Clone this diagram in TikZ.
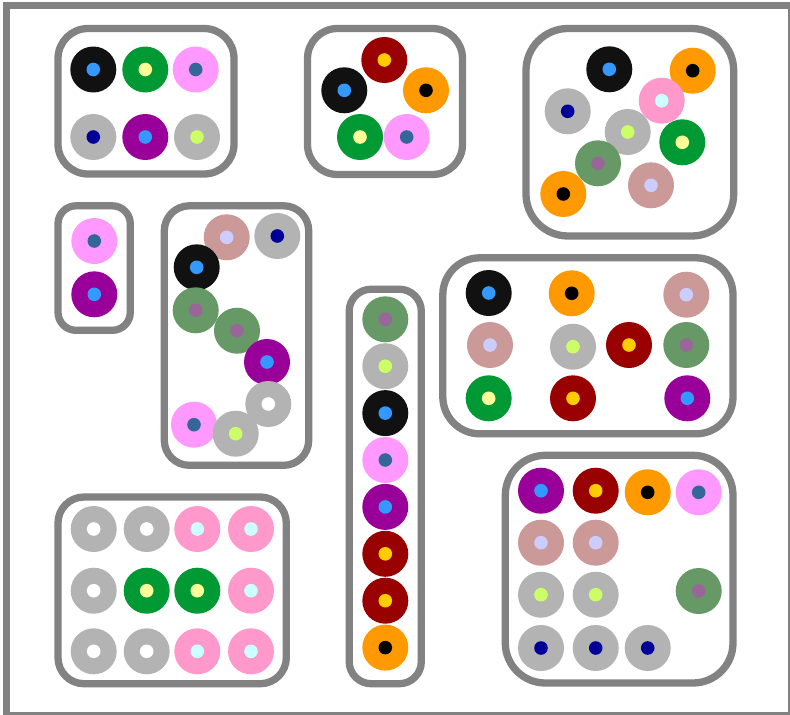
\documentclass[tikz,border=0pt]{standalone}
\usetikzlibrary{positioning}
\definecolor{blk}{HTML}{111111}
\definecolor{blu}{HTML}{3399FF}
\definecolor{grn}{HTML}{009933}
\definecolor{ylw}{HTML}{FFFF99}
\definecolor{pnk}{HTML}{FF99FF}
\definecolor{stl}{HTML}{336699}
\definecolor{gry}{HTML}{B3B3B3}
\definecolor{nvy}{HTML}{000099}
\definecolor{prp}{HTML}{990099}
\definecolor{lim}{HTML}{CCFF66}
\definecolor{drd}{HTML}{990000}
\definecolor{gld}{HTML}{FFCC00}
\definecolor{org}{HTML}{FF9900}
\definecolor{lpk}{HTML}{FF99CC}
\definecolor{cyn}{HTML}{CCFFFF}
\definecolor{sge}{HTML}{669966}
\definecolor{mve}{HTML}{996699}
\definecolor{rsy}{HTML}{CC9999}
\definecolor{lav}{HTML}{CCCCFF}
\definecolor{frm}{HTML}{828282}
\tikzset{
  boxline/.style={draw=frm, line width=7.3pt, fill=white},
  A/.style={fill=blk}, Ai/.style={fill=blu},
  B/.style={fill=grn}, Bi/.style={fill=ylw},
  C/.style={fill=pnk}, Ci/.style={fill=stl},
  D/.style={fill=gry}, Di/.style={fill=nvy},
  E/.style={fill=prp}, Ei/.style={fill=blu},
  F/.style={fill=gry}, Fi/.style={fill=lim},
  G/.style={fill=drd}, Gi/.style={fill=gld},
  H/.style={fill=org}, Hi/.style={fill=black},
  I/.style={fill=lpk}, Ii/.style={fill=cyn},
  J/.style={fill=sge}, Ji/.style={fill=mve},
  K/.style={fill=rsy}, Ki/.style={fill=lav},
  L/.style={fill=gry}, Li/.style={fill=white},
}
\newcommand\dotring[3]{\fill[#1] (#2,#3) circle (23); \fill[#1i] (#2,#3) circle (6.8);}
\begin{document}
\begin{tikzpicture}[x=1pt,y=-1pt]
\useasboundingbox (0,0) rectangle (790,715);
\clip (0,0) rectangle (790,715);
\fill[white] (0,0) rectangle (790,715);
\draw[draw=frm, line width=7pt] (6.5,5) rectangle (791,715);
% box 1
\draw[boxline, rounded corners=30pt] (58,28.5) rectangle (234,174);
\dotring{A}{93.3}{69.5}\dotring{B}{145.3}{69.5}\dotring{C}{195.7}{69.5}
\dotring{D}{93.3}{137}\dotring{E}{145.3}{137}\dotring{F}{197}{137}
% box 2
\draw[boxline, rounded corners=30pt] (307.5,28.5) rectangle (462.5,174.5);
\dotring{G}{384.3}{60}\dotring{A}{344.3}{90.3}\dotring{H}{426}{90.3}
\dotring{B}{360}{137}\dotring{C}{406.7}{137}
% box 3
\draw[boxline, rounded corners=42pt] (526,28.5) rectangle (733.7,236);
\dotring{A}{609.3}{69.3}\dotring{H}{692.7}{70.7}\dotring{D}{567.7}{111.3}
\dotring{I}{661.7}{100.7}\dotring{F}{627.7}{132}\dotring{B}{682.3}{142.3}
\dotring{J}{598}{163.3}\dotring{K}{651}{185.3}\dotring{H}{563.3}{194}
% box 4
\draw[boxline, rounded corners=18pt] (58,205.8) rectangle (130.3,330.3);
\dotring{C}{94.3}{241}\dotring{E}{94.3}{294.3}
% box 5
\draw[boxline, rounded corners=25pt] (164.3,205.8) rectangle (308.7,465.3);
\dotring{K}{226.7}{237.3}\dotring{D}{277.3}{236}\dotring{A}{196.7}{267.3}
\dotring{J}{195.7}{310.3}\dotring{J}{237}{330.7}\dotring{E}{267}{362}
\dotring{L}{268.3}{404}\dotring{C}{194}{424.7}\dotring{F}{235.7}{433.7}
% box 6
\draw[boxline, rounded corners=22pt] (349.2,289.2) rectangle (421.3,683.7);
\dotring{J}{385.3}{319.3}\dotring{F}{385.3}{366.2}\dotring{A}{385.3}{413.1}
\dotring{C}{385.3}{460}\dotring{E}{385.3}{506.9}\dotring{G}{385.3}{553.8}
\dotring{G}{385.3}{600.7}\dotring{H}{385.3}{647.6}
% box 7
\draw[boxline, rounded corners=37pt] (442.8,257.8) rectangle (733,433.8);
\dotring{A}{488.7}{293}\dotring{H}{571.7}{293.3}\dotring{K}{686.3}{294.7}
\dotring{K}{490}{345}\dotring{F}{573}{346.7}\dotring{G}{629}{345}\dotring{J}{686.3}{345}
\dotring{B}{488.7}{398.3}\dotring{G}{573}{398.3}\dotring{E}{687.3}{398.3}
% box 8
\draw[boxline, rounded corners=26pt] (58,497) rectangle (286.3,683.7);
\dotring{L}{93.7}{529}\dotring{L}{146.7}{529}\dotring{I}{197.3}{529}\dotring{I}{251}{529}
\dotring{L}{93.7}{590.7}\dotring{B}{146.7}{590.7}\dotring{B}{197.3}{590.7}\dotring{I}{251}{590.7}
\dotring{L}{93.7}{651.3}\dotring{L}{146.7}{651.3}\dotring{I}{197.3}{651.3}\dotring{I}{251}{651.3}
% box 9
\draw[boxline, rounded corners=40pt] (505.3,455.3) rectangle (733,683);
\dotring{E}{541}{490.7}\dotring{G}{595.7}{490.7}\dotring{H}{647.7}{492.3}\dotring{C}{698.7}{492.3}
\dotring{K}{541}{542.7}\dotring{K}{595.7}{542.7}
\dotring{F}{541}{594.7}\dotring{F}{595.7}{594.7}\dotring{J}{698.7}{591}
\dotring{D}{541}{648}\dotring{D}{595.7}{648}\dotring{D}{647.7}{648}
\end{tikzpicture}
\end{document}
